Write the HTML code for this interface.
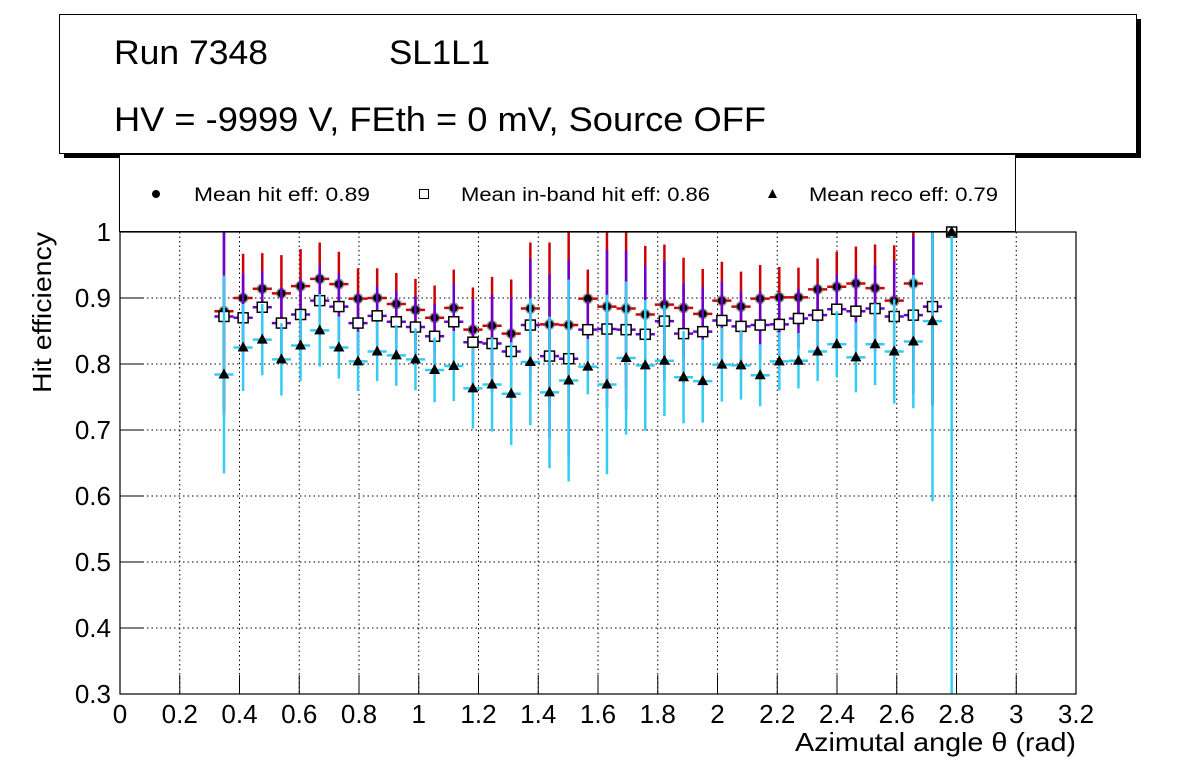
<!DOCTYPE html>
<html><head><meta charset="utf-8"><style>
html,body{margin:0;padding:0;background:#fff;}
svg{display:block;font-family:"Liberation Sans",Arial,sans-serif;}
</style></head><body>
<svg id="c" width="1196" height="772" viewBox="0 0 1196 772" xmlns="http://www.w3.org/2000/svg">
<rect x="0" y="0" width="1196" height="772" fill="#fff"/>
<g>
<rect x="64" y="19" width="1077" height="139" fill="#000"/>
<rect x="59.5" y="14.5" width="1077" height="139" fill="#fff" stroke="#000" stroke-width="1"/>
<text x="114" y="64" font-size="34" textLength="154" lengthAdjust="spacingAndGlyphs">Run 7348</text>
<text x="389" y="64" font-size="34" textLength="101" lengthAdjust="spacingAndGlyphs">SL1L1</text>
<text x="114" y="131" font-size="34" textLength="652" lengthAdjust="spacingAndGlyphs">HV = -9999 V, FEth = 0 mV, Source OFF</text>
</g>
<g>
<rect x="119.5" y="154.5" width="896" height="77" fill="#fff" stroke="#000" stroke-width="1"/>
<circle cx="156" cy="194" r="4" fill="#000"/>
<text x="194" y="201" font-size="19" textLength="176" lengthAdjust="spacingAndGlyphs">Mean hit  eff: 0.89</text>
<rect x="419.5" y="189.5" width="9" height="9" fill="#fff" stroke="#000"/>
<text x="461" y="201" font-size="19" textLength="249" lengthAdjust="spacingAndGlyphs">Mean in-band hit eff: 0.86</text>
<polygon points="768,198 777,198 772.5,189" fill="#000"/>
<text x="809" y="201" font-size="19" textLength="189" lengthAdjust="spacingAndGlyphs">Mean reco eff: 0.79</text>
</g>
<g id="grid"></g>
<g id="marks"></g>
<g id="axes"></g>
</svg>
<script>
const tickX = [0,0.2,0.4,0.6,0.8,1,1.2,1.4,1.6,1.8,2,2.2,2.4,2.6,2.8,3,3.2];
const tickXLabels = ["0","0.2","0.4","0.6","0.8","1","1.2","1.4","1.6","1.8","2","2.2","2.4","2.6","2.8","3","3.2"];
const tickY = [0.3,0.4,0.5,0.6,0.7,0.8,0.9,1];
const tickYLabels = ["0.3","0.4","0.5","0.6","0.7","0.8","0.9","1"];
const binStart = 0.348;
const binWidth = 0.0641;
const hitEff = [0.880,0.900,0.914,0.907,0.918,0.929,0.921,0.899,0.900,0.891,0.882,0.870,0.885,0.852,0.858,0.846,0.884,0.860,0.859,0.899,0.887,0.884,0.875,0.890,0.885,0.876,0.896,0.887,0.899,0.901,0.901,0.913,0.917,0.922,0.915,0.896,0.922,0.887,1.0];
const hitErr = [0.15,0.067,0.054,0.058,0.056,0.055,0.049,0.046,0.045,0.047,0.047,0.049,0.058,0.064,0.074,0.082,0.10,0.124,0.15,0.044,0.12,0.12,0.104,0.091,0.076,0.068,0.059,0.053,0.051,0.046,0.045,0.047,0.053,0.056,0.066,0.084,0.12,0.15,0];
const bandEff = [0.872,0.870,0.886,0.862,0.875,0.896,0.887,0.862,0.873,0.864,0.856,0.842,0.864,0.833,0.831,0.819,0.859,0.812,0.808,0.852,0.853,0.852,0.845,0.865,0.846,0.849,0.866,0.857,0.859,0.860,0.869,0.874,0.883,0.880,0.884,0.872,0.874,0.887,1.0];
const bandErr = [0.15,0.067,0.055,0.054,0.054,0.054,0.05,0.046,0.045,0.047,0.047,0.049,0.058,0.064,0.074,0.082,0.10,0.124,0.15,0.044,0.12,0.12,0.104,0.091,0.076,0.068,0.059,0.053,0.051,0.046,0.045,0.047,0.053,0.056,0.066,0.084,0.12,0.15,0];
const recoEff = [0.784,0.825,0.837,0.807,0.828,0.851,0.825,0.804,0.819,0.813,0.807,0.791,0.797,0.763,0.769,0.755,0.803,0.757,0.775,0.796,0.769,0.809,0.798,0.805,0.780,0.774,0.799,0.798,0.783,0.804,0.805,0.819,0.830,0.810,0.830,0.819,0.834,0.865,1.0];
const recoErr = [0.15,0.066,0.054,0.055,0.054,0.055,0.047,0.045,0.045,0.046,0.047,0.049,0.053,0.061,0.071,0.078,0.096,0.115,0.153,0.042,0.136,0.116,0.099,0.084,0.070,0.063,0.056,0.052,0.047,0.044,0.042,0.045,0.050,0.053,0.062,0.079,0.101,0.273,1.0];

const X0=120, X1=1076, Y0=694, Y1=232;
const xMin=0,xMax=3.2,yMin=0.3,yMax=1;
function sx(v){return X0+(v-xMin)/(xMax-xMin)*(X1-X0);}
function sy(v){return Y0-(v-yMin)/(yMax-yMin)*(Y0-Y1);}
function cy(y){return Math.max(Y1,Math.min(Y0,y));}
const NS="http://www.w3.org/2000/svg";
function mk(tag,attrs,parent){const e=document.createElementNS(NS,tag);for(const k in attrs)e.setAttribute(k,attrs[k]);parent.appendChild(e);return e;}
const grid=document.getElementById('grid'), marks=document.getElementById('marks'), axes=document.getElementById('axes');

tickX.forEach((t,i)=>{ if(t<=xMin||t>=xMax) return;
  const l=mk('line',{x1:sx(t),x2:sx(t),y1:Y1,y2:Y0,stroke:'#000','stroke-width':1,'stroke-dasharray':'1.5,3'},grid);
  
  
});
tickY.forEach((t,i)=>{ if(t<=yMin||t>=yMax) return;
  const l=mk('line',{x1:X0,x2:X1,y1:sy(t),y2:sy(t),stroke:'#000','stroke-width':1,'stroke-dasharray':'1.5,3'},grid);
  
  
});

function series(vals,errs,color,kind,name){
  vals.forEach((v,i)=>{
    const xc=binStart+i*binWidth, px=sx(xc);
    const hw=(sx(binWidth)-sx(0))/2;
    const g=mk('g',{},marks);
    
    
    mk('line',{x1:px,x2:px,y1:cy(sy(v+errs[i])),y2:cy(sy(v-errs[i])),stroke:color,'stroke-width':2.5},g);
    if(i<vals.length-1) mk('line',{x1:px-hw,x2:px+hw,y1:sy(v),y2:sy(v),stroke:color,'stroke-width':2.5},g);
    const py=sy(v);
    if(kind==='circle'){mk('circle',{cx:px,cy:py,r:5.5,fill:'#555',opacity:0.6},g);mk('circle',{cx:px,cy:py,r:4,fill:'#000'},g);}
    else if(kind==='box'){mk('rect',{x:px-5,y:py-5,width:10,height:10,fill:'#fff',stroke:'#000','stroke-width':1.5},g);}
    else {mk('polygon',{points:`${px-5.5},${py+4} ${px+5.5},${py+4} ${px},${py-6}`,fill:'#000'},g);}
  });
}
series(hitEff,hitErr,'#d00000','circle','hit-eff');
series(bandEff,bandErr,'#6a00d0','box','inband-eff');
series(recoEff,recoErr,'#33ccf5','tri','reco-eff');

mk('rect',{x:X0,y:Y1,width:X1-X0,height:Y0-Y1,fill:'none',stroke:'#000','stroke-width':1.2},axes);
tickX.forEach((t,i)=>{
  mk('line',{x1:sx(t),x2:sx(t),y1:Y0,y2:Y0-19,stroke:'#000','stroke-width':1},axes);
  const tx=mk('text',{x:sx(t),y:Y0+29,'font-size':26,'text-anchor':'middle'},axes);
  tx.textContent=tickXLabels[i];
  
  
});
tickY.forEach((t,i)=>{
  mk('line',{x1:X0,x2:X0+23,y1:sy(t),y2:sy(t),stroke:'#000','stroke-width':1},axes);
  const tx=mk('text',{x:X0-9,y:sy(t)+9,'font-size':26,'text-anchor':'end'},axes);
  tx.textContent=tickYLabels[i];
  
  
});
const xt=mk('text',{x:1076,y:751,'font-size':26,'text-anchor':'end',textLength:281,lengthAdjust:'spacingAndGlyphs'},axes);
xt.textContent='Azimutal angle θ (rad)';


const yt=mk('text',{x:0,y:0,'font-size':26,'text-anchor':'end',textLength:161,lengthAdjust:'spacingAndGlyphs',transform:'translate(51,232) rotate(-90)'},axes);
yt.textContent='Hit efficiency';


</script>
</body></html>
